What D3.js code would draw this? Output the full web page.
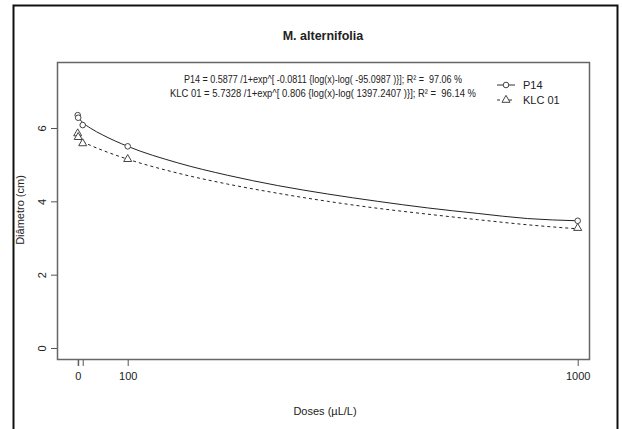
<!DOCTYPE html>
<html>
<head>
<meta charset="utf-8">
<script src="https://cdn.jsdelivr.net/npm/d3@7"></script>
<style>
  body { margin: 0; background: white; }
  text { font-family: "Liberation Sans", Arial, sans-serif; fill: #222; white-space: pre; }
</style>
</head>
<body>
<div id="chart"></div>
<script>
// observed doses and means
var doses = [0, 1, 10, 100, 1000]
var p14Points = [6.35, 6.28, 6.08, 5.50, 3.47]
var klcPoints = [5.85, 5.75, 5.58, 5.15, 3.27]

// fitted curves
var curveDoses = [0, 10, 25, 50, 100, 200, 300, 400, 500, 600, 700, 800, 900, 1000]
var p14Curve = [6.30, 6.15, 6.00, 5.81, 5.50, 5.05, 4.71, 4.43, 4.20, 4.00, 3.82, 3.67, 3.53, 3.47]
var klcCurve = [5.72, 5.63, 5.53, 5.39, 5.15, 4.77, 4.47, 4.22, 4.00, 3.81, 3.65, 3.50, 3.36, 3.25]

var xTicks = [0, 1, 10, 100, 1000]
var xTickLabels = ["0", "", "", "100", "1000"]
var yTicks = [0, 2, 4, 6]

var eqLines = [
  "P14 = 0.5877 /1+exp^[ -0.0811 {log(x)-log( -95.0987 )}]; R\u00b2 =  97.06 %",
  "KLC 01 = 5.7328 /1+exp^[ 0.806 {log(x)-log( 1397.2407 )}]; R\u00b2 =  96.14 %"
]
var eqWidths = [278, 306]
var legendNames = ["P14", "KLC 01"]

var width = 622, height = 429
var box = {left: 57, right: 589, top: 62, bottom: 359}

var svg = d3.select("#chart").append("svg")
            .attr("width", width)
            .attr("height", height)

// outer frame of the figure
svg.append("path")
   .attr("d", "M13.5,430 L13.5,5.5 L617.5,5.5 L617.5,430")
   .style("fill", "none")
   .style("stroke", "#111")
   .style("stroke-width", 2)

// 0 and 1000 sit where the reference puts them
var x = d3.scaleLinear().domain([0, 1000]).range([77.7, 577.7])
var y = d3.scaleLinear().domain([-0.3, 7.8]).range([box.bottom, box.top])

// plot box
svg.append("rect")
   .attr("x", box.left + 0.5)
   .attr("y", box.top + 0.5)
   .attr("width", box.right - box.left)
   .attr("height", box.bottom - box.top)
   .style("fill", "none")
   .style("stroke", "#666")
   .style("stroke-width", 1.5)

// x axis
var xAxis = d3.axisBottom(x)
              .tickValues(xTicks)
              .tickFormat(function(d, i){ return xTickLabels[i] })
              .tickSize(6)
              .tickPadding(6)
var gx = svg.append("g")
            .attr("transform", "translate(0," + (box.bottom + 1) + ")")
            .call(xAxis)
gx.select(".domain").remove()
gx.selectAll("line").style("stroke", "#555")
gx.selectAll("text").style("font-size", "11px")
   .style("font-family", "'Liberation Sans', Arial, sans-serif")
   .style("fill", "#222")

// y axis
var yAxis = d3.axisLeft(y).tickValues(yTicks).tickSize(6).tickFormat(d3.format("d"))
var gy = svg.append("g")
            .attr("transform", "translate(" + (box.left) + ",0)")
            .call(yAxis)
gy.select(".domain").remove()
gy.selectAll("line").style("stroke", "#555")
gy.selectAll("text")
  .attr("x", null).attr("dy", null)
  .attr("transform", "translate(-14,0) rotate(-90)")
  .attr("text-anchor", "middle")
  .attr("dominant-baseline", "middle")
  .style("font-size", "11px")
  .style("font-family", "'Liberation Sans', Arial, sans-serif")
  .style("fill", "#222")

// titles
svg.append("text")
   .text("M. alternifolia")
   .attr("x", 323)
   .attr("y", 40)
   .attr("text-anchor", "middle")
   .style("font-size", "12.5px")
   .style("font-weight", "bold")

svg.append("text")
   .text("Doses (\u00b5L/L)")
   .attr("x", 325)
   .attr("y", 415)
   .attr("text-anchor", "middle")
   .style("font-size", "11px")

svg.append("text")
   .text("Di\u00e2metro (cm)")
   .attr("transform", "translate(24,210) rotate(-90)")
   .attr("text-anchor", "middle")
   .style("font-size", "11px")

// equations, squeezed to the narrow width of the original
svg.selectAll(".eq").data(eqLines).enter()
   .append("text")
   .attr("class", "eq")
   .text(function(d){ return d })
   .attr("x", function(d, i){ return 323 - eqWidths[i] / 2 })
   .attr("y", function(d, i){ return 83 + i * 14 })
   .attr("textLength", function(d, i){ return eqWidths[i] })
   .attr("lengthAdjust", "spacingAndGlyphs")
   .style("font-size", "10.5px")

// fitted curves
var line = d3.line()
             .x(function(d){ return x(d[0]) })
             .y(function(d){ return y(d[1]) })
             .curve(d3.curveMonotoneX)

svg.append("path")
   .datum(d3.zip(curveDoses, p14Curve))
   .attr("d", line)
   .style("fill", "none")
   .style("stroke", "#222")
   .style("stroke-width", 1)

svg.append("path")
   .datum(d3.zip(curveDoses, klcCurve))
   .attr("d", line)
   .style("fill", "none")
   .style("stroke", "#222")
   .style("stroke-width", 1)
   .style("stroke-dasharray", "3,3")

// observed points
svg.selectAll(".p14").data(d3.zip(doses, p14Points)).enter()
   .append("circle")
   .attr("class", "p14")
   .attr("cx", function(d){ return x(d[0]) })
   .attr("cy", function(d){ return y(d[1]) })
   .attr("r", 2.8)
   .style("fill", "white")
   .style("stroke", "#444")

var tri = d3.symbol().type(d3.symbolTriangle).size(28)
svg.selectAll(".klc").data(d3.zip(doses, klcPoints)).enter()
   .append("path")
   .attr("class", "klc")
   .attr("d", tri)
   .attr("transform", function(d){ return "translate(" + x(d[0]) + "," + y(d[1]) + ")" })
   .style("fill", "white")
   .style("stroke", "#444")

// legend
var legend = svg.append("g").attr("transform", "translate(497,85)")
legendNames.forEach(function(name, i){
  var ly = i * 15
  legend.append("line")
        .attr("x1", 0).attr("x2", 18)
        .attr("y1", ly).attr("y2", ly)
        .style("stroke", "#333")
        .style("stroke-dasharray", i == 0 ? null : "3,3")
  if (i == 0) {
    legend.append("circle").attr("cx", 9).attr("cy", ly).attr("r", 2.8)
          .style("fill", "white").style("stroke", "#444")
  } else {
    legend.append("path").attr("d", tri).attr("transform", "translate(9," + ly + ")")
          .style("fill", "white").style("stroke", "#444")
  }
  legend.append("text")
        .text(name)
        .attr("x", 26)
        .attr("y", ly + 4)
        .style("font-size", "11px")
})
</script>
</body>
</html>
